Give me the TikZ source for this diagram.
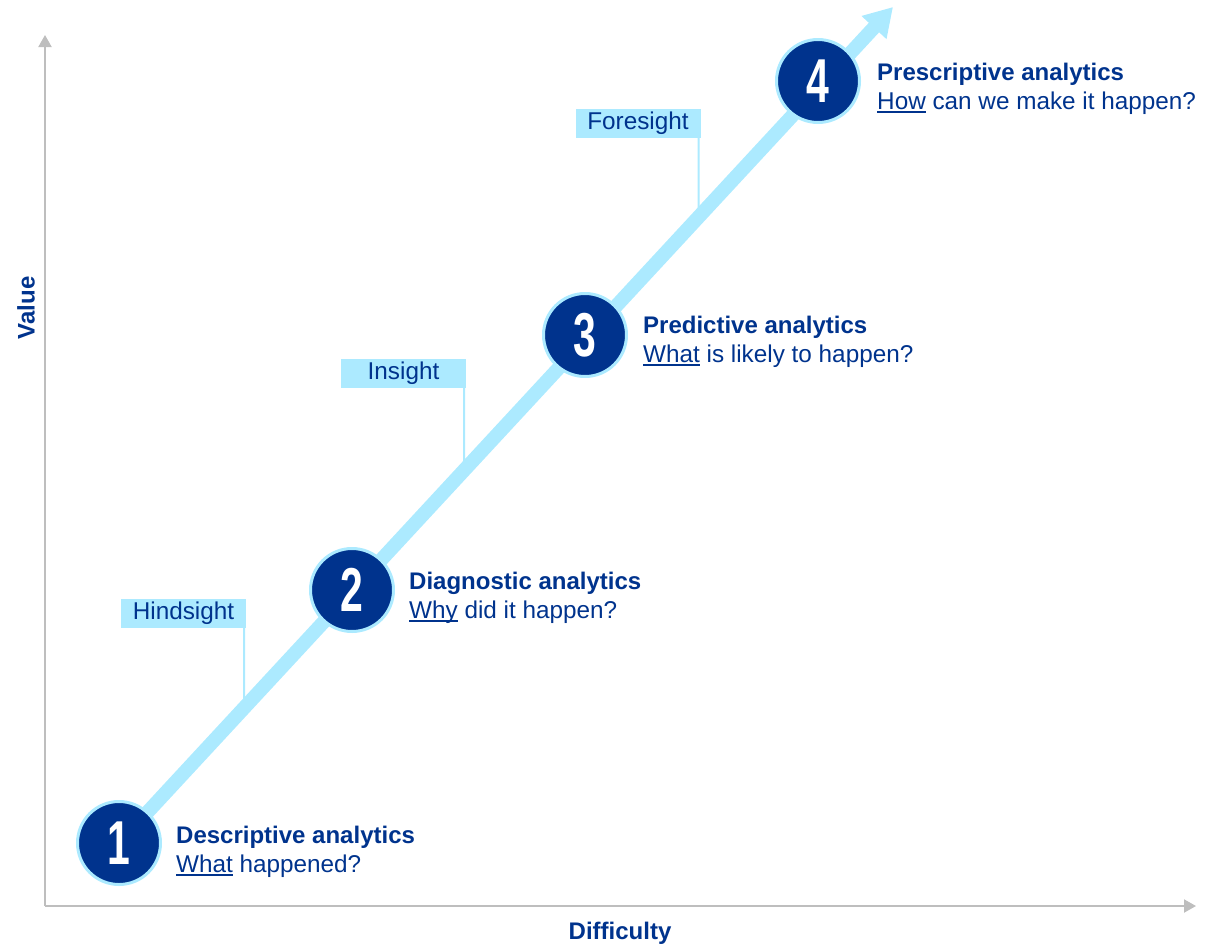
\documentclass[tikz,border=0pt]{standalone}
\usepackage{fontspec}
\setmainfont{Liberation Sans}
\usetikzlibrary{arrows.meta,calc}
\definecolor{kblue}{RGB}{0,51,141}
\definecolor{klight}{RGB}{172,234,255}
\definecolor{axgray}{RGB}{190,190,190}
\newcommand\myul[1]{\setbox0\hbox{#1}\rlap{\rule[-3.6pt]{\wd0}{1.3pt}}\box0\relax}
\newcommand\numtxt[1]{\scalebox{0.66}[1]{\fontsize{62}{62}\selectfont\bfseries #1}}
\tikzset{
  txt/.style={font=\fontsize{24.3}{29}\selectfont, text=kblue, inner sep=0pt},
  ttl/.style={txt, font=\fontsize{24}{29}\selectfont\bfseries},
  numcirc/.style={circle, fill=kblue, draw=klight, line width=3pt, minimum size=83pt, inner sep=0pt, text=white},
  sightbox/.style={txt, fill=klight, minimum width=125pt, minimum height=29pt},
  leader/.style={draw=klight, line width=2pt},
  axis/.style={draw=axgray, line width=2pt, -{Triangle[width=13pt,length=12pt]}}
}
\begin{document}
\begin{tikzpicture}[x=1pt,y=-1pt]
\useasboundingbox (0,0) rectangle (1209,945);
% axes
\coordinate (o) at (45,906);
\coordinate (ytop) at (45,35);
\coordinate (xend) at (1196,906);
\draw[axis] (o) -- (ytop);
\draw[axis] (o) -- (xend);
\node[ttl, rotate=90] (vlab) at (26,308) {Value};
\node[ttl] (dlab) at (620,933) {Difficulty};
% main arrow
\coordinate (start) at (119,843);
\coordinate (tip) at (893,7);
\draw[draw=klight, line width=14pt, -{Triangle[width=32pt,length=28pt]}] (start) -- (tip);
% sight boxes
\node[sightbox] (h) at (183.5,613.5) {Hindsight};
\node[sightbox] (i) at (403.5,373.5) {Insight};
\node[sightbox] (f) at (638,123.5) {Foresight};
\foreach \b in {h,i,f}{
  \coordinate (\b top) at ($(\b.south east)+(-2,0)$);
  \coordinate (\b bot) at ($(\b.south east)+(-2,200)$);
  \draw[leader] (\b top) -- (intersection of \b top--\b bot and start--tip);
}
% circles
\node[numcirc] (c1) at (119,843) {\numtxt{1}};
\node[numcirc] (c2) at (352,590) {\numtxt{2}};
\node[numcirc] (c3) at (585,335) {\numtxt{3}};
\node[numcirc] (c4) at (818,81) {\numtxt{4}};
% labels
\node[ttl, anchor=base west] (t1) at (176,843) {Descriptive analytics};
\node[txt, anchor=base west] (s1) at (176,872) {\myul{What} happened?};
\node[ttl, anchor=base west] (t2) at (409,589) {Diagnostic analytics};
\node[txt, anchor=base west] (s2) at (409,618) {\myul{Why} did it happen?};
\node[ttl, anchor=base west] (t3) at (643,333) {Predictive analytics};
\node[txt, anchor=base west] (s3) at (643,362) {\myul{What} is likely to happen?};
\node[ttl, anchor=base west] (t4) at (877,80) {Prescriptive analytics};
\node[txt, anchor=base west] (s4) at (877,109) {\myul{How} can we make it happen?};
\end{tikzpicture}
\end{document}
